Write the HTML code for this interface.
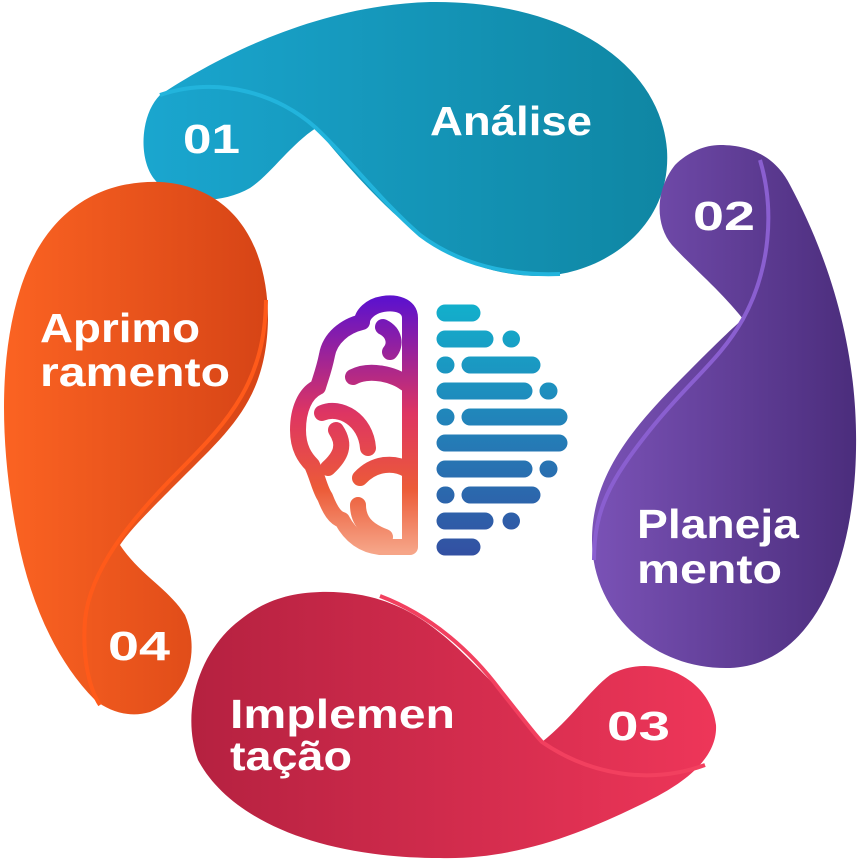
<!DOCTYPE html>
<html><head><meta charset="utf-8"><style>
html,body{margin:0;padding:0;background:#fff;}
svg{display:block;}
text{font-family:"Liberation Sans",sans-serif;font-weight:bold;fill:#fff;}
</style></head><body>
<svg width="858" height="860" viewBox="0 0 858 860" xmlns="http://www.w3.org/2000/svg">
<defs>
<linearGradient id="gt" x1="0" y1="0" x2="1" y2="0"><stop offset="0" stop-color="#1aa6cf"/><stop offset="1" stop-color="#0f86a3"/></linearGradient>
<linearGradient id="gp" x1="0" y1="0" x2="1" y2="0"><stop offset="0" stop-color="#7a52b6"/><stop offset="1" stop-color="#4b2d7c"/></linearGradient>
<linearGradient id="gr" x1="0" y1="0" x2="1" y2="0"><stop offset="0" stop-color="#b52140"/><stop offset="1" stop-color="#ee3659"/></linearGradient>
<linearGradient id="go" x1="0" y1="0" x2="1" y2="0"><stop offset="0" stop-color="#fb6322"/><stop offset="1" stop-color="#d64416"/></linearGradient>
<linearGradient id="gb" gradientUnits="userSpaceOnUse" x1="0" y1="300" x2="0" y2="552"><stop offset="0" stop-color="#5e12cc"/><stop offset="0.45" stop-color="#de3562"/><stop offset="0.75" stop-color="#ec5b38"/><stop offset="1" stop-color="#f6a588"/></linearGradient>
<linearGradient id="gd" gradientUnits="userSpaceOnUse" x1="0" y1="303" x2="0" y2="556"><stop offset="0" stop-color="#12b0cc"/><stop offset="0.5" stop-color="#2380b8"/><stop offset="1" stop-color="#3350a2"/></linearGradient>
</defs>

<!-- teal -->
<path d="M160,95 C220,55 320,5 430,2 C560,0 660,60 667,150 C672,230 600,275 540,276 C470,276 420,240 380,200 C350,170 330,145 316,128 C290,145 270,175 250,188 C220,205 175,205 155,180 C138,160 140,115 160,95 Z" fill="url(#gt)"/>
<path d="M160,95 C220,75 280,95 316,128 C350,160 380,200 420,235 C460,265 510,276 560,274" fill="none" stroke="#22b4dc" stroke-width="4"/>
<!-- purple -->
<path d="M720,145 C760,145 780,165 790,185 C830,260 858,350 856,450 C854,570 810,665 730,668 C650,670 592,610 592,540 C592,470 640,420 690,370 C710,350 730,330 743,319 C720,290 690,265 672,245 C655,225 655,190 675,165 C688,152 705,145 720,145 Z" fill="url(#gp)"/>
<path d="M760,160 C775,210 770,270 743,319 C720,360 690,380 650,430 C610,480 594,510 594,560" fill="none" stroke="#8a5fd0" stroke-width="4"/>
<!-- red -->
<path d="M320,592 C400,590 440,630 480,670 C510,700 530,725 542,742 C570,720 590,690 610,675 C650,652 710,675 716,725 C718,760 680,785 650,800 C590,830 520,860 440,858 C320,858 230,820 198,760 C180,710 200,650 240,620 C265,600 290,593 320,592 Z" fill="url(#gr)"/>
<path d="M380,596 C430,615 470,650 500,690 C520,715 535,735 542,742 C590,775 650,785 705,765" fill="none" stroke="#f2405f" stroke-width="4"/>
<!-- orange -->
<path d="M95,700 C55,660 30,600 18,540 C0,450 -2,360 20,290 C45,210 100,180 160,182 C230,186 268,240 268,320 C266,400 230,430 180,480 C150,510 130,530 120,545 C140,575 170,590 185,615 C200,650 190,695 150,712 C130,718 110,712 95,700 Z" fill="url(#go)"/>
<path d="M266,300 C265,380 230,420 180,470 C130,520 90,570 85,620 C82,660 90,690 100,705" fill="none" stroke="#ff5a1a" stroke-width="4"/>

<!-- labels -->
<text x="430" y="135" font-size="41" textLength="162" lengthAdjust="spacingAndGlyphs">Análise</text>
<text x="183" y="153" font-size="41" textLength="57" lengthAdjust="spacingAndGlyphs">01</text>
<text x="693" y="230" font-size="41" textLength="62" lengthAdjust="spacingAndGlyphs">02</text>
<text x="637" y="538" font-size="41" textLength="162" lengthAdjust="spacingAndGlyphs">Planeja</text>
<text x="637" y="583" font-size="41" textLength="145" lengthAdjust="spacingAndGlyphs">mento</text>
<text x="607" y="740" font-size="41" textLength="63" lengthAdjust="spacingAndGlyphs">03</text>
<text x="230" y="728" font-size="41" textLength="225" lengthAdjust="spacingAndGlyphs">Implemen</text>
<text x="230" y="770" font-size="41" textLength="122" lengthAdjust="spacingAndGlyphs">tação</text>
<text x="108" y="660" font-size="41" textLength="62" lengthAdjust="spacingAndGlyphs">04</text>
<text x="40" y="342" font-size="41" textLength="160" lengthAdjust="spacingAndGlyphs">Aprimo</text>
<text x="40" y="386" font-size="41" textLength="190" lengthAdjust="spacingAndGlyphs">ramento</text>

<!-- brain left -->
<g fill="none" stroke="url(#gb)" stroke-width="16" stroke-linecap="round" stroke-linejoin="round">
<path d="M410,318 C410,305 395,302 383,304 C370,306 362,315 362,322 C345,326 330,338 327,355 C324,370 320,380 318,387 C305,393 298,410 298,430 C298,448 305,458 312,465 C318,478 320,490 325,497 C330,510 335,518 342,520 C350,535 362,545 380,547 L410,547 Z"/>
<path d="M383,327 C395,333 396,345 390,352"/>
<path d="M353,377 C370,368 395,375 405,383"/>
<path d="M322,413 C340,405 366,420 368,448"/>
<path d="M336,430 C346,445 341,456 328,468"/>
<path d="M360,478 C375,462 395,462 408,470"/>
<path d="M358,505 C358,520 366,530 385,537"/>
</g>

<!-- brain right bars -->
<g stroke="url(#gd)" stroke-width="17" stroke-linecap="round" fill="none">
<path d="M445,313 H472"/>
<path d="M445,339 H485 M511,339 H511.5"/>
<path d="M445,365 H446 M470,365 H532"/>
<path d="M445,391 H524 M548,391 H549"/>
<path d="M445,417 H446 M470,417 H559"/>
<path d="M445,443 H559"/>
<path d="M445,469 H524 M548,469 H549"/>
<path d="M445,495 H446 M470,495 H532"/>
<path d="M445,521 H485 M511,521 H511.5"/>
<path d="M445,547 H472"/>
</g>
</svg>
</body></html>
